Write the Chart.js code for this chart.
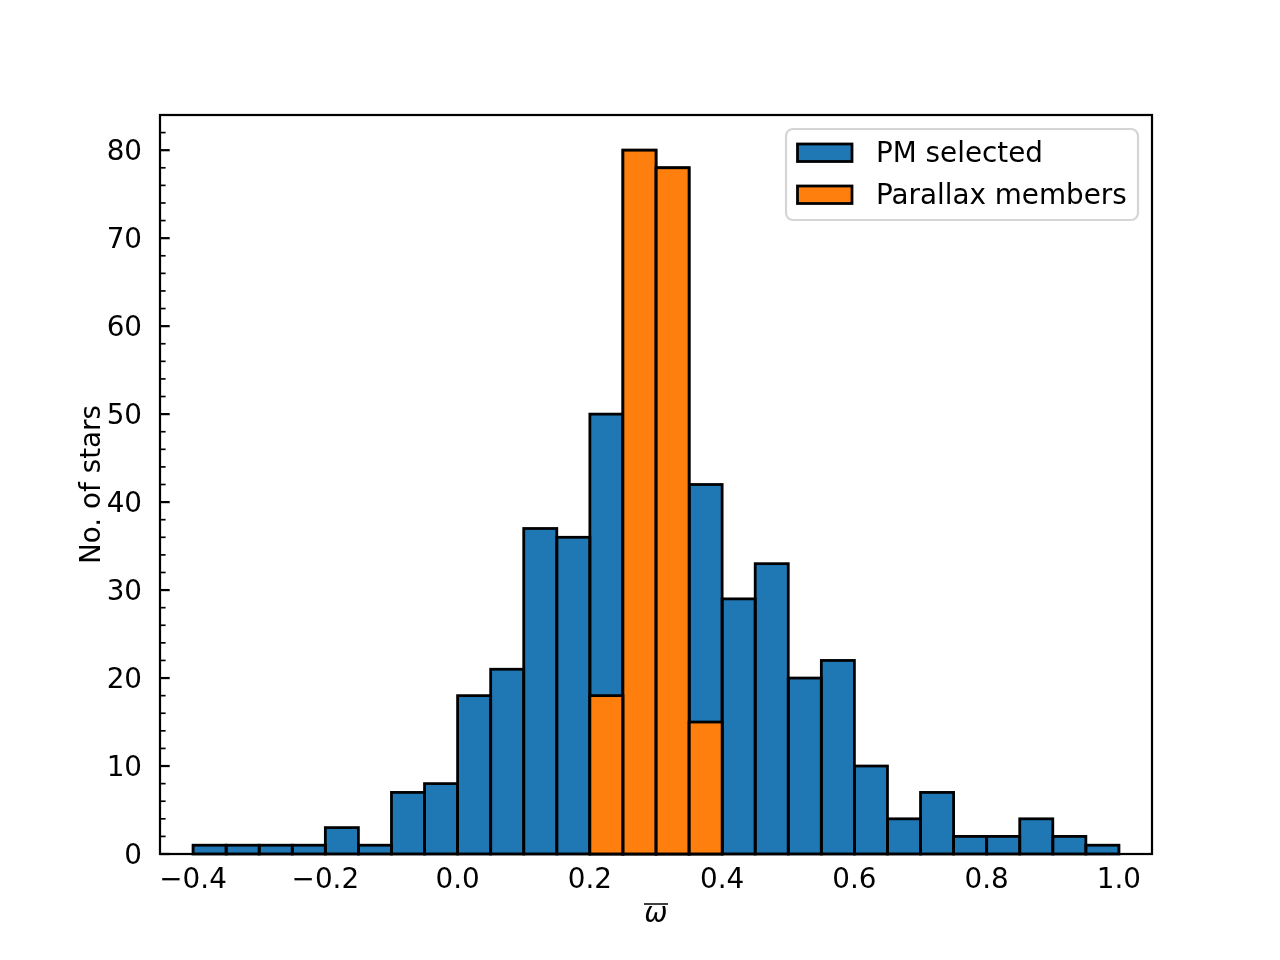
<!DOCTYPE html>
<html>
<head>
<meta charset="utf-8">
<script src="https://cdn.jsdelivr.net/npm/chart.js@4/dist/chart.umd.min.js"></script>
<style>body{margin:0;background:#fff}</style>
</head>
<body>
<canvas id="histChart" width="1280" height="960"></canvas>
<script>
// bin centres (bin width 0.05, from -0.4 to 1.0)
const binCenters=[-0.375,-0.325,-0.275,-0.225,-0.175,-0.125,-0.075,-0.025,
0.025,0.075,0.125,0.175,0.225,0.275,0.325,0.375,0.425,0.475,0.525,0.575,
0.625,0.675,0.725,0.775,0.825,0.875,0.925,0.975];

const pmSelected=[1,1,1,1,3,1,7,8,18,21,37,36,50,80,78,42,29,33,20,22,10,4,7,2,2,4,2,1];
const parallaxMembers=[null,null,null,null,null,null,null,null,null,null,null,null,
18,80,78,15,null,null,null,null,null,null,null,null,null,null,null,null];

const xTicks=[-0.4,-0.2,0.0,0.2,0.4,0.6,0.8,1.0];
const yTicks=[0,10,20,30,40,50,60,70,80];

const FONT='"DejaVu Sans"';
const FS=27.8;

function toPoints(vals){
return binCenters.map((c,i)=>({x:c,y:vals[i]}));
}

function fmtX(v){
return (v<0?'\u2212':'')+Math.abs(v).toFixed(1);
}

const extras={
id:'extras',
afterDatasetDraw(chart,args){
// matplotlib style edges, centred on the bar outline
const ctx=chart.ctx;
const ds=chart.data.datasets[args.index];
ctx.save();
ctx.strokeStyle='#000';
ctx.lineWidth=2.78;
args.meta.data.forEach((bar,i)=>{
if(ds.data[i].y==null) return;
const p=bar.getProps(['x','y','base','width'],true);
ctx.strokeRect(p.x-p.width/2,p.y,p.width,p.base-p.y);
});
ctx.restore();
},
afterDraw(chart){
const ctx=chart.ctx;
const a=chart.chartArea;
const xs=chart.scales.x, ys=chart.scales.y;
ctx.save();
ctx.strokeStyle='#000';

// ticks pointing in
ctx.lineWidth=2.22;
yTicks.forEach(v=>{
const py=ys.getPixelForValue(v);
ctx.beginPath();ctx.moveTo(a.left,py);ctx.lineTo(a.left+9.7,py);ctx.stroke();
});
xTicks.forEach(v=>{
const px=xs.getPixelForValue(v);
ctx.beginPath();ctx.moveTo(px,a.bottom);ctx.lineTo(px,a.bottom-9.7);ctx.stroke();
});
ctx.lineWidth=1.67;
for(let v=2;v<ys.max;v+=2){
if(v%10==0) continue;
const py=ys.getPixelForValue(v);
ctx.beginPath();ctx.moveTo(a.left,py);ctx.lineTo(a.left+5.6,py);ctx.stroke();
}

// frame
ctx.lineWidth=2.22;
ctx.strokeRect(a.left,a.top,a.right-a.left,a.bottom-a.top);

// legend
const lx=786,ly=129,lw=352,lh=91,r=7;
ctx.beginPath();
ctx.roundRect(lx,ly,lw,lh,r);
ctx.fillStyle='rgba(255,255,255,0.8)';
ctx.fill();
ctx.strokeStyle='#d5d5d5';
ctx.lineWidth=2.2;
ctx.stroke();
ctx.font=FS+'px '+FONT;
ctx.textAlign='left';
ctx.textBaseline='alphabetic';
chart.data.datasets.forEach((d,i)=>{
const yy=144+i*42;
ctx.fillStyle=d.backgroundColor;
ctx.fillRect(797.5,yy,54.5,17.5);
ctx.strokeStyle='#000';
ctx.lineWidth=2.78;
ctx.strokeRect(797.5,yy,54.5,17.5);
ctx.fillStyle='#000';
ctx.fillText(d.label,876,162+i*42);
});

// axis titles
const cx=(a.left+a.right)/2;
ctx.fillStyle='#000';
ctx.font='italic '+FS+'px '+FONT;
ctx.textAlign='center';
ctx.fillText('\u03c9',cx,922);
ctx.lineWidth=1.5;
ctx.beginPath();ctx.moveTo(644,904);ctx.lineTo(668,904);ctx.stroke();

ctx.font=FS+'px '+FONT;
ctx.translate(100,(a.top+a.bottom)/2);
ctx.rotate(-Math.PI/2);
ctx.fillText('No. of stars',0,0);
ctx.restore();
}
};

const ctx=document.getElementById('histChart').getContext('2d');

new Chart(ctx,{
type:'bar',
data:{
datasets:[{
label:'PM selected',
data:toPoints(pmSelected),
backgroundColor:'#1f77b4',
borderWidth:0,
order:2
},{
label:'Parallax members',
data:toPoints(parallaxMembers),
backgroundColor:'#ff7f0e',
borderWidth:0,
order:1
}]
},
options:{
responsive:false,
animation:false,
grouped:false,
barPercentage:1,
categoryPercentage:1,
layout:{padding:{top:115,right:128,left:0,bottom:0}},
plugins:{legend:{display:false},tooltip:{enabled:false}},
scales:{
x:{
type:'linear',
min:-0.45,max:1.05,
offset:false,
grid:{display:false},
border:{display:false},
afterBuildTicks:s=>{s.ticks=xTicks.map(v=>({value:v}));},
afterFit:s=>{s.height=106;},
ticks:{padding:2,maxRotation:0,autoSkip:false,color:'#000',font:{family:FONT,size:FS},callback:v=>fmtX(v)}
},
y:{
min:0,max:84,
grid:{display:false},
border:{display:false},
afterBuildTicks:s=>{s.ticks=yTicks.map(v=>({value:v}));},
afterFit:s=>{s.width=160;},
ticks:{padding:10,labelOffset:2.5,color:'#000',font:{family:FONT,size:FS},callback:v=>String(v)}
}
}
},
plugins:[extras]
});
</script>
</body>
</html>
